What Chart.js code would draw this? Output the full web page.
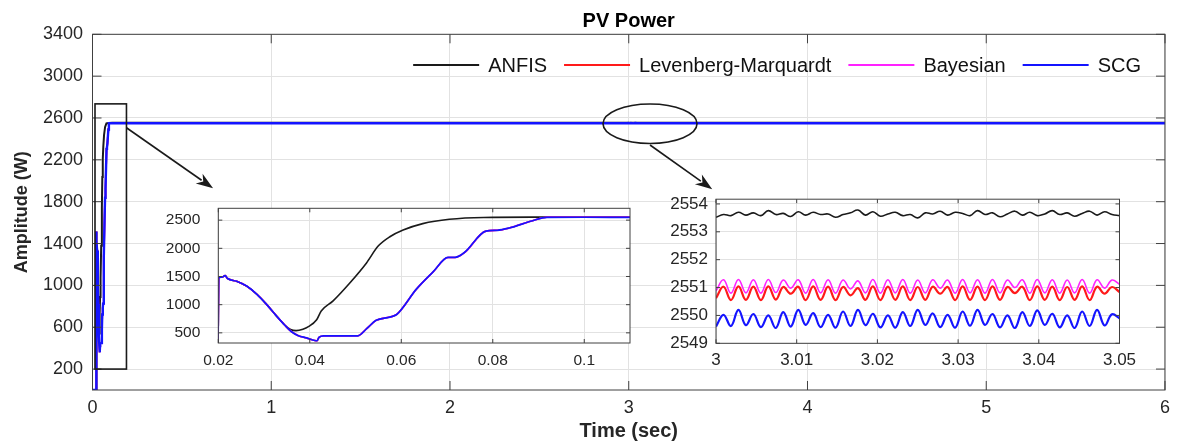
<!DOCTYPE html>
<html><head><meta charset="utf-8">
<script src="https://cdn.jsdelivr.net/npm/chart.js@4.4.1/dist/chart.umd.min.js"></script>
<style>
html,body{margin:0;padding:0;background:#fff;}
#wrap{position:relative;width:1177px;height:441px;overflow:hidden;background:#fff;}
canvas{position:absolute;}
#main{left:0;top:0;width:1177px;height:441px;}
#inset1{left:150px;top:181px;width:490px;height:190px;}
#inset2{left:640px;top:181px;width:520px;height:195px;}
</style></head><body>
<div id="wrap">
<canvas id="main" width="1177" height="441"></canvas>
<canvas id="inset1" width="490" height="190"></canvas>
<canvas id="inset2" width="520" height="195"></canvas>
</div>
<script>
// ---------------- data ----------------
const seriesNames = ['ANFIS', 'Levenberg-Marquardt', 'Bayesian', 'SCG'];

// start-up transient (s, W)
const anfisTime  = [0, 0.0199, 0.0201, 0.0208, 0.0215, 0.022, 0.024, 0.0262, 0.0285, 0.0305, 0.0325, 0.0345, 0.0358, 0.037, 0.0385, 0.0397, 0.0415, 0.0425, 0.0451, 0.0487, 0.0524, 0.0549, 0.0575, 0.0604, 0.0647, 0.0705, 0.078, 0.09, 0.11];
const anfisPower = [0, 0, 1480, 1490, 1515, 1465, 1415, 1330, 1180, 1010, 820, 640, 560, 540, 565, 610, 733, 888, 1068, 1380, 1740, 2035, 2205, 2324, 2438, 2515, 2548, 2553, 2553.6];

const netTime  = [0, 0.0199, 0.0201, 0.0208, 0.0215, 0.022, 0.024, 0.0262, 0.0285, 0.0305, 0.0325, 0.0345, 0.036, 0.0375, 0.0393, 0.0411, 0.0416, 0.042, 0.043, 0.0505, 0.0525, 0.0545, 0.0575, 0.059, 0.0633, 0.067, 0.0702, 0.0718, 0.0738, 0.0785, 0.081, 0.0836, 0.0887, 0.0918, 0.1, 0.11];
const lmPower  = [0, 0, 1480, 1490, 1515, 1465, 1415, 1330, 1180, 1010, 820, 640, 520, 450, 410, 365, 360, 420, 445, 448, 580, 722, 780, 826, 1275, 1585, 1836, 1837, 1922, 2305, 2320, 2360, 2490, 2550, 2551, 2550.8];
const bayPower = [0, 0, 1480, 1490, 1515, 1465, 1415, 1330, 1180, 1010, 820, 640, 520, 450, 410, 365, 360, 420, 445, 448, 580, 722, 780, 826, 1275, 1585, 1836, 1837, 1922, 2305, 2320, 2360, 2490, 2550, 2551, 2551.0];
const scgPower = [0, 0, 1480, 1490, 1515, 1465, 1415, 1330, 1180, 1010, 820, 640, 520, 450, 410, 365, 360, 420, 445, 448, 580, 722, 780, 826, 1275, 1585, 1838, 1840, 1925, 2305, 2320, 2360, 2490, 2550, 2551, 2550.3];

// steady-state window 3 .. 3.05 s
const zoomTime = [3.00000,3.00093,3.00185,3.00278,3.00370,3.00463,3.00556,3.00648,3.00741,3.00833,
  3.00926,3.01019,3.01111,3.01204,3.01296,3.01389,3.01481,3.01574,3.01667,3.01759,
  3.01852,3.01944,3.02037,3.02130,3.02222,3.02315,3.02407,3.02500,3.02593,3.02685,
  3.02778,3.02870,3.02963,3.03056,3.03148,3.03241,3.03333,3.03426,3.03519,3.03611,
  3.03704,3.03796,3.03889,3.03981,3.04074,3.04167,3.04259,3.04352,3.04444,3.04537,
  3.04630,3.04722,3.04815,3.04907,3.05000];
const zoomAnfis = [2553.52,2553.62,2553.58,2553.70,2553.60,2553.68,2553.58,2553.76,2553.62,2553.66,
  2553.55,2553.72,2553.60,2553.70,2553.62,2553.64,2553.52,2553.62,2553.68,2553.78,
  2553.60,2553.72,2553.56,2553.64,2553.70,2553.58,2553.62,2553.50,2553.68,2553.64,
  2553.74,2553.60,2553.70,2553.66,2553.58,2553.76,2553.62,2553.68,2553.54,2553.64,
  2553.74,2553.60,2553.70,2553.58,2553.64,2553.76,2553.62,2553.68,2553.56,2553.66,
  2553.74,2553.60,2553.72,2553.62,2553.58];
const zoomLM = [2550.62,2551.03,2550.55,2551.04,2550.56,2551.03,2550.55,2551.04,2550.57,2551.02,
  2550.78,2551.03,2550.55,2551.04,2550.56,2551.03,2550.55,2551.02,2550.72,2550.98,
  2550.56,2551.04,2550.55,2551.03,2550.56,2551.04,2550.55,2551.02,2550.56,2551.03,
  2550.78,2551.02,2550.55,2551.04,2550.56,2551.03,2550.55,2551.04,2550.56,2551.02,
  2550.80,2551.03,2550.55,2551.04,2550.56,2551.03,2550.55,2551.02,2550.56,2551.04,
  2550.55,2551.03,2550.78,2551.02,2550.84];
const zoomBay = [2550.88,2551.28,2550.80,2551.29,2550.81,2551.28,2550.80,2551.29,2550.82,2551.27,
  2550.98,2551.28,2550.80,2551.29,2550.81,2551.28,2550.80,2551.27,2550.95,2551.24,
  2550.81,2551.29,2550.80,2551.28,2550.81,2551.29,2550.80,2551.27,2550.81,2551.28,
  2550.98,2551.27,2550.80,2551.29,2550.81,2551.28,2550.80,2551.29,2550.81,2551.27,
  2551.00,2551.28,2550.80,2551.29,2550.81,2551.28,2550.80,2551.27,2550.81,2551.29,
  2550.80,2551.28,2550.98,2551.27,2551.12];
const zoomSCG = [2549.60,2550.02,2549.62,2550.20,2549.65,2550.05,2549.58,2550.00,2549.55,2550.12,
  2549.60,2550.20,2549.66,2550.08,2549.58,2550.02,2549.56,2550.14,2549.62,2550.20,
  2549.65,2550.06,2549.57,2550.00,2549.56,2550.12,2549.62,2550.20,2549.66,2550.07,
  2549.58,2550.02,2549.56,2550.14,2549.63,2550.20,2549.66,2550.05,2549.57,2550.00,
  2549.55,2550.12,2549.62,2550.18,2549.66,2550.06,2549.57,2550.00,2549.55,2550.14,
  2549.62,2550.20,2549.64,2550.04,2549.90];

// end of the simulation
const tailTime  = [6];
const anfisTail = [2553.6];
const lmTail    = [2550.8];
const bayTail   = [2551.0];
const scgTail   = [2549.9];

// ticks
const mainXTicks = [0, 1, 2, 3, 4, 5, 6];
const mainXLabels = ['0', '1', '2', '3', '4', '5', '6'];
const mainYTicks = [200, 600, 1000, 1400, 1800, 2200, 2600, 3000, 3400];
const mainYLabels = ['200', '600', '1000', '1400', '1800', '2200', '2600', '3000', '3400'];
const in1XTicks = [0.02, 0.04, 0.06, 0.08, 0.1];
const in1XLabels = ['0.02', '0.04', '0.06', '0.08', '0.1'];
const in1YTicks = [500, 1000, 1500, 2000, 2500];
const in1YLabels = ['500', '1000', '1500', '2000', '2500'];
const in2XTicks = [3, 3.01, 3.02, 3.03, 3.04, 3.05];
const in2XLabels = ['3', '3.01', '3.02', '3.03', '3.04', '3.05'];
const in2YTicks = [2549, 2550, 2551, 2552, 2553, 2554];
const in2YLabels = ['2549', '2550', '2551', '2552', '2553', '2554'];

// ---------------- styling / helpers ----------------
const FONT = '"Liberation Sans", Arial, Helvetica, sans-serif';
const TXT = '#262626';
const colors = ['#1a1a1a', '#ff1a1a', '#ff22ff', '#1414ff'];

function pts(t, v) { return t.map((ti, i) => ({x: ti, y: v[i]})); }
function cat() { const o = {t: [], v: []}; for (let i = 0; i < arguments.length; i += 2) { o.t = o.t.concat(arguments[i]); o.v = o.v.concat(arguments[i + 1]); } return pts(o.t, o.v); }

function axis(min, max, ticks, labels, size, pad, fit, isX, extra) {
  return Object.assign({
    type: 'linear', min: min, max: max,
    afterBuildTicks: s => { s.ticks = ticks.map(v => ({value: v})); },
    afterFit: s => { if (isX) s.height = fit; else s.width = fit; },
    ticks: {callback: (v, i) => labels[i], font: {family: FONT, size: size}, color: TXT, padding: pad, maxRotation: 0, autoSkip: false},
    grid: {color: '#e2e2e2', drawTicks: false, lineWidth: 1},
    border: {display: false}
  }, extra || {});
}

const framePlugin = {
  id: 'frame',
  afterDatasetsDraw(chart, args, opts) {
    const {ctx, chartArea: a, scales} = chart;
    ctx.save();
    ctx.strokeStyle = opts.color; ctx.lineWidth = opts.width;
    ctx.strokeRect(a.left, a.top, a.right - a.left, a.bottom - a.top);
    ctx.beginPath();
    scales.x.ticks.forEach(t => {
      const p = scales.x.getPixelForValue(t.value);
      ctx.moveTo(p, a.bottom); ctx.lineTo(p, a.bottom - opts.tick);
      ctx.moveTo(p, a.top); ctx.lineTo(p, a.top + opts.tick);
    });
    scales.y.ticks.forEach(t => {
      const p = scales.y.getPixelForValue(t.value);
      ctx.moveTo(a.left, p); ctx.lineTo(a.left + opts.tick, p);
      ctx.moveTo(a.right, p); ctx.lineTo(a.right - opts.tick, p);
    });
    ctx.stroke();
    ctx.restore();
  }
};
const whitePlot = {
  id: 'whitePlot',
  beforeDraw(chart) {
    const {ctx, chartArea: a} = chart;
    ctx.save(); ctx.fillStyle = '#fff'; ctx.fillRect(a.left, a.top, a.right - a.left, a.bottom - a.top); ctx.restore();
  }
};
const centerTitle = {
  id: 'centerTitle',
  afterLayout(chart) {
    if (chart.titleBlock) { chart.titleBlock.left = chart.chartArea.left; chart.titleBlock.right = chart.chartArea.right; }
  }
};
const innerLegend = {
  id: 'innerLegend',
  afterDatasetsDraw(chart) {
    const ctx = chart.ctx;
    ctx.save();
    ctx.font = '20px ' + FONT;
    ctx.textBaseline = 'middle';
    const lineW = 66, g1 = 9, g2 = 17, y = 65;
    const ds = chart.data.datasets;
    let total = 0;
    ds.forEach((d, i) => { total += lineW + g1 + ctx.measureText(d.label).width + (i < ds.length - 1 ? g2 : 0); });
    let x = chart.chartArea.right - 24 - total;
    ds.forEach(d => {
      ctx.strokeStyle = d.borderColor; ctx.lineWidth = 2;
      ctx.beginPath(); ctx.moveTo(x, y); ctx.lineTo(x + lineW, y); ctx.stroke();
      x += lineW + g1;
      ctx.fillStyle = '#111'; ctx.fillText(d.label, x, y + 1);
      x += ctx.measureText(d.label).width + g2;
    });
    ctx.restore();
  }
};

// annotation marks, in data coordinates of the main axes
const zoomBox = {t0: 0.014, t1: 0.19, p0: 200, p1: 2735};
const ellipseMark = {t: 3.119, p: 2545, rx: 47, ry: 19.7};
const arrows = [
  {t0: 0.19, p0: 2507, t1: 0.6746, p1: 1928},
  {t0: 3.119, p0: 2342, t1: 3.467, p1: 1918}
];
const annoPlugin = {
  id: 'anno',
  afterDraw(chart) {
    const {ctx, scales: {x, y}} = chart;
    const X = v => x.getPixelForValue(v), Y = v => y.getPixelForValue(v);
    ctx.save();
    ctx.strokeStyle = '#1a1a1a'; ctx.fillStyle = '#1a1a1a'; ctx.lineWidth = 1.6;
    ctx.strokeRect(X(zoomBox.t0), Y(zoomBox.p1), X(zoomBox.t1) - X(zoomBox.t0), Y(zoomBox.p0) - Y(zoomBox.p1));
    ctx.beginPath();
    ctx.ellipse(X(ellipseMark.t), Y(ellipseMark.p), ellipseMark.rx, ellipseMark.ry, 0, 0, 2 * Math.PI);
    ctx.stroke();
    arrows.forEach(a => {
      const x0 = X(a.t0), y0 = Y(a.p0), x1 = X(a.t1), y1 = Y(a.p1);
      const ang = Math.atan2(y1 - y0, x1 - x0), L = 17, W = 6;
      const bx = x1 - L * Math.cos(ang), by = y1 - L * Math.sin(ang);
      ctx.beginPath(); ctx.moveTo(x0, y0); ctx.lineTo(bx + 3 * Math.cos(ang), by + 3 * Math.sin(ang)); ctx.stroke();
      const nx = -Math.sin(ang), ny = Math.cos(ang);
      ctx.beginPath();
      ctx.moveTo(x1, y1);
      ctx.lineTo(bx + nx * W, by + ny * W);
      ctx.lineTo(bx + 5 * Math.cos(ang), by + 5 * Math.sin(ang));
      ctx.lineTo(bx - nx * W, by - ny * W);
      ctx.closePath(); ctx.fill();
    });
    ctx.restore();
  }
};

function ds(label, data, color, width, order, extra) {
  return Object.assign({label: label, data: data, borderColor: color, backgroundColor: color, borderWidth: width,
    pointRadius: 0, fill: false, order: order, tension: 0}, extra || {});
}
const common = {responsive: false, animation: false, devicePixelRatio: 1, parsing: true,
  events: []};

// ---------------- main chart ----------------
new Chart(document.getElementById('main'), {
  type: 'line',
  data: {datasets: [
    ds(seriesNames[0], cat(anfisTime, anfisPower, zoomTime, zoomAnfis, tailTime, anfisTail), colors[0], 2, 4),
    ds(seriesNames[1], cat(netTime, lmPower, zoomTime, zoomLM, tailTime, lmTail), colors[1], 1.8, 3),
    ds(seriesNames[2], cat(netTime, bayPower, zoomTime, zoomBay, tailTime, bayTail), colors[2], 1.8, 2),
    ds(seriesNames[3], cat(netTime, scgPower, zoomTime, zoomSCG, tailTime, scgTail), colors[3], 2.4, 1)
  ]},
  options: Object.assign({}, common, {
    layout: {padding: {left: 0, right: 10, top: 0, bottom: 0}},
    scales: {
      x: axis(0, 6, mainXTicks, mainXLabels, 18, 7, 51, true, {
        title: {display: true, text: 'Time (sec)', color: TXT, font: {family: FONT, size: 20, weight: 'bold', lineHeight: 1}, padding: {top: 0, bottom: 0}}
      }),
      y: axis(0, 3400, mainYTicks, mainYLabels, 18, 9.5, 92.5, false, {
        title: {display: true, text: 'Amplitude (W)', color: TXT, font: {family: FONT, size: 18, weight: 'bold', lineHeight: 1.2}, padding: {top: 11, bottom: 0}}
      })
    },
    plugins: {
      legend: {display: false}, tooltip: {enabled: false},
      title: {display: true, text: 'PV Power', color: '#000', font: {family: FONT, size: 20, weight: 'bold', lineHeight: 1.2}, padding: {top: 9, bottom: 1.3}},
      frame: {color: '#404040', width: 1, tick: 9}
    }
  }),
  plugins: [centerTitle, framePlugin, innerLegend, annoPlugin]
});

// ---------------- inset 1: start-up ----------------
new Chart(document.getElementById('inset1'), {
  type: 'line',
  data: {datasets: [
    ds(seriesNames[0], pts(anfisTime, anfisPower), colors[0], 1.6, 4, {cubicInterpolationMode: 'monotone'}),
    ds(seriesNames[1], pts(netTime, lmPower), colors[1], 1.6, 3, {cubicInterpolationMode: 'monotone'}),
    ds(seriesNames[2], pts(netTime, bayPower), colors[2], 1.6, 2, {cubicInterpolationMode: 'monotone'}),
    ds(seriesNames[3], pts(netTime, scgPower), colors[3], 1.7, 1, {cubicInterpolationMode: 'monotone'})
  ]},
  options: Object.assign({}, common, {
    layout: {padding: {left: 0, right: 10, top: 8, bottom: 0}},
    scales: {
      x: axis(0.02, 0.11, in1XTicks, in1XLabels, 15.5, 8, 28, true),
      y: axis(320, 2710, in1YTicks, in1YLabels, 15.5, 18, 68.3, false)
    },
    plugins: {legend: {display: false}, tooltip: {enabled: false}, frame: {color: '#404040', width: 1, tick: 4}}
  }),
  plugins: [whitePlot, framePlugin]
});

// ---------------- inset 2: steady state ----------------
new Chart(document.getElementById('inset2'), {
  type: 'line',
  data: {datasets: [
    ds(seriesNames[0], pts(zoomTime, zoomAnfis), colors[0], 1.6, 4, {tension: 0.4}),
    ds(seriesNames[1], pts(zoomTime, zoomLM), colors[1], 2.2, 3, {tension: 0.4}),
    ds(seriesNames[2], pts(zoomTime, zoomBay), colors[2], 1.6, 2, {tension: 0.4}),
    ds(seriesNames[3], pts(zoomTime, zoomSCG), colors[3], 2.2, 1, {tension: 0.4})
  ]},
  options: Object.assign({}, common, {
    layout: {padding: {left: 0, right: 40.5, top: 9, bottom: 0}},
    scales: {
      x: axis(3, 3.05, in2XTicks, in2XLabels, 17, 6.5, 32.7, true),
      y: axis(2549, 2554.17, in2YTicks, in2YLabels, 17, 8, 76, false)
    },
    plugins: {legend: {display: false}, tooltip: {enabled: false}, frame: {color: '#404040', width: 1, tick: 4}}
  }),
  plugins: [whitePlot, framePlugin]
});
</script>
</body></html>
